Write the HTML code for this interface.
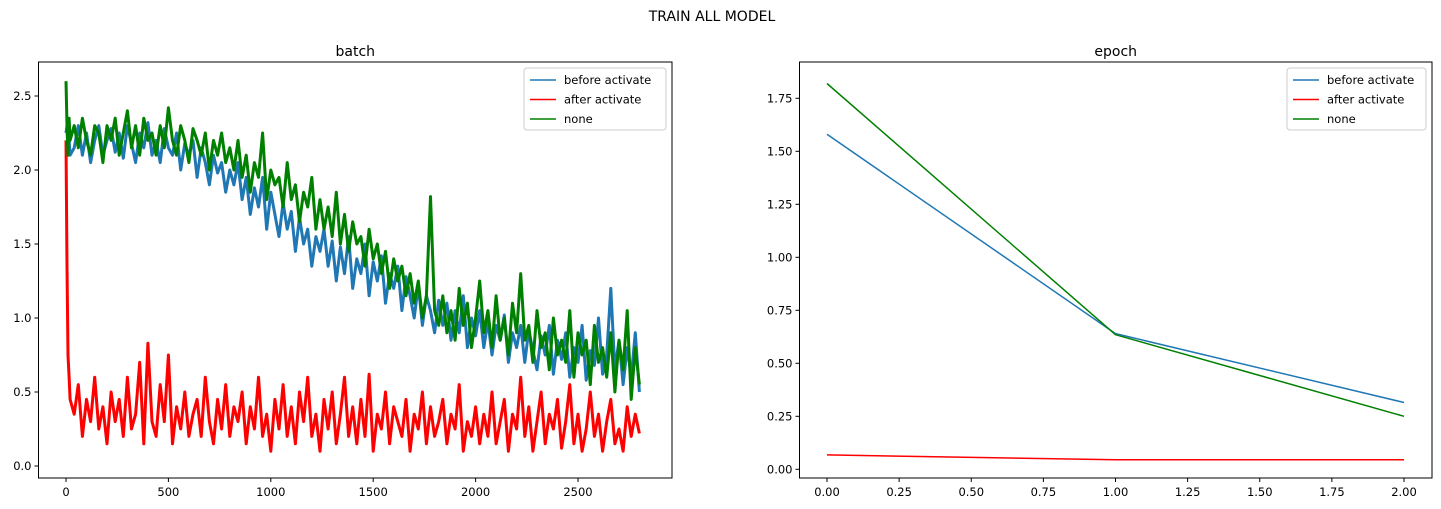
<!DOCTYPE html>
<html><head><meta charset="utf-8"><style>
body{margin:0;background:#fff;}
svg{display:block;font-family:"DejaVu Sans","Liberation Sans",sans-serif;}
</style></head><body>
<svg id="fig" width="1441" height="509"></svg>
<script>
const iterBatch=[0,5,10,15,20];for(let i=40;i<=2800;i+=20)iterBatch.push(i);
const blueBatch=[2.25,2.3,2.15,2.2,2.1,
2.15,2.3,2.1,2.25,2.05,2.2,2.3,2.1,2.2,2.28,
2.12,2.25,2.08,2.3,2.18,2.05,2.25,2.15,2.32,2.1,
2.2,2.05,2.28,2.15,2.1,2.25,2.0,2.18,2.1,2.2,
1.95,2.15,2.05,1.9,2.1,1.98,2.05,1.85,2.0,1.9,
2.05,1.8,1.95,1.7,1.88,1.75,1.95,1.6,1.85,1.7,
1.55,1.78,1.6,1.72,1.45,1.68,1.5,1.6,1.35,1.55,
1.45,1.6,1.35,1.52,1.25,1.48,1.3,1.55,1.2,1.4,
1.3,1.5,1.15,1.38,1.25,1.42,1.1,1.3,1.2,1.35,
1.05,1.28,1.15,1.0,1.22,0.95,1.15,1.05,0.9,1.12,
0.95,1.1,0.85,1.05,0.9,1.15,0.8,1.0,0.88,1.05,
0.8,0.98,0.75,0.95,0.85,1.02,0.7,0.9,0.8,0.95,
0.7,0.92,0.78,0.65,0.88,0.75,0.95,0.62,0.85,0.72,
0.9,0.6,0.8,0.7,0.95,0.58,0.78,0.68,1.0,0.62,
0.75,1.2,0.65,0.85,0.55,0.8,0.6,0.9,0.5];
const greenBatch=[2.6,2.3,2.1,2.35,2.2,
2.3,2.15,2.35,2.2,2.1,2.3,2.25,2.05,2.3,2.2,
2.35,2.1,2.25,2.4,2.15,2.3,2.1,2.35,2.2,2.25,
2.1,2.3,2.15,2.42,2.2,2.1,2.3,2.2,2.05,2.28,
2.2,2.1,2.25,2.0,2.2,2.1,2.25,2.05,2.15,2.0,
2.2,1.95,2.1,1.85,2.05,1.95,2.25,1.8,2.0,1.9,
1.95,1.75,2.05,1.8,1.9,1.65,1.85,1.75,1.95,1.6,
1.8,1.6,1.75,1.55,1.85,1.5,1.7,1.45,1.65,1.5,
1.55,1.35,1.6,1.4,1.5,1.3,1.45,1.2,1.4,1.25,
1.35,1.15,1.3,1.1,1.25,1.0,1.15,1.82,1.05,0.95,
1.15,0.9,1.05,0.85,1.2,0.95,1.1,0.8,1.0,1.25,
0.9,1.05,0.8,1.15,0.85,1.0,0.75,1.1,0.9,1.3,
0.85,0.95,0.7,1.05,0.8,0.9,0.65,1.0,0.75,0.85,
0.7,1.05,0.6,0.9,0.75,0.85,0.55,0.95,0.7,0.8,
0.6,0.9,0.5,0.85,0.65,1.05,0.45,0.8,0.55];
const redBatch=[2.2,1.35,0.75,0.6,0.45,
0.35,0.55,0.2,0.45,0.3,0.6,0.25,0.4,0.15,0.5,
0.3,0.45,0.2,0.6,0.25,0.35,0.7,0.15,0.83,0.3,
0.2,0.55,0.3,0.75,0.15,0.4,0.25,0.5,0.2,0.35,
0.45,0.2,0.6,0.3,0.15,0.45,0.25,0.55,0.2,0.4,
0.3,0.5,0.15,0.4,0.25,0.6,0.2,0.35,0.1,0.45,
0.25,0.55,0.2,0.4,0.15,0.5,0.3,0.6,0.2,0.35,
0.1,0.45,0.25,0.5,0.15,0.35,0.6,0.2,0.4,0.15,
0.45,0.2,0.62,0.1,0.35,0.25,0.5,0.15,0.4,0.3,
0.2,0.45,0.1,0.35,0.25,0.5,0.15,0.4,0.2,0.3,
0.45,0.15,0.35,0.25,0.55,0.1,0.3,0.2,0.4,0.15,
0.35,0.2,0.5,0.15,0.3,0.45,0.1,0.35,0.25,0.6,
0.2,0.4,0.1,0.3,0.5,0.15,0.35,0.25,0.45,0.12,
0.3,0.55,0.15,0.35,0.1,0.25,0.5,0.2,0.35,0.1,
0.3,0.45,0.15,0.25,0.1,0.4,0.2,0.35,0.22];
const epochX=[0,1,2];
const blueEpoch=[1.58,0.64,0.315];
const redEpoch=[0.068,0.045,0.045];
const greenEpoch=[1.82,0.635,0.25];
const leftXTicks=[0,500,1000,1500,2000,2500];
const leftYTicks=[0,0.5,1.0,1.5,2.0,2.5];
const rightXTicks=[0,0.25,0.5,0.75,1.0,1.25,1.5,1.75,2.0];
const rightYTicks=[0,0.25,0.5,0.75,1.0,1.25,1.5,1.75];
const labels=["before activate","after activate","none"];
const colors=["#1f77b4","#ff0000","#008000"];

const NS="http://www.w3.org/2000/svg";
const svg=document.getElementById('fig');
function el(t,a,p){const e=document.createElementNS(NS,t);for(const k in a)e.setAttribute(k,a[k]);(p||svg).appendChild(e);return e;}
function txt(s,a,p){const e=el('text',a,p);e.textContent=s;return e;}

const title=txt("TRAIN ALL MODEL",{x:712,y:21,'text-anchor':'middle','font-size':14,fill:'#000'});



function panel(name,box,xs,ys,xTicks,yTicks,xFmt,yFmt,series,ttl,legX,sw){
  const g=el('g',{});
  
  
  const [L,T,R,B]=box;
  const t=txt(ttl,{x:(L+R)/2,y:T-6,'text-anchor':'middle','font-size':14,fill:'#000'},g);
  
  
  series.forEach((s,i)=>{
    const d=s.x.map((v,j)=>(j?'L':'M')+xs(v).toFixed(1)+','+ys(s.y[j]).toFixed(1)).join('');
    const p=el('path',{d:d,fill:'none',stroke:colors[i],'stroke-width':sw,'stroke-linejoin':'round'},g);
    
    
  });
  const fr=el('rect',{x:L,y:T,width:R-L,height:B-T,fill:'none',stroke:'#000','stroke-width':1},g);
  
  
  xTicks.forEach(v=>{const x=xs(v);el('line',{x1:x,y1:B,x2:x,y2:B+4,stroke:'#000'},g);
    const l=txt(xFmt(v),{x:x,y:B+18,'text-anchor':'middle','font-size':11.5,fill:'#000'},g);
    
    });
  yTicks.forEach(v=>{const y=ys(v);el('line',{x1:L-4,y1:y,x2:L,y2:y,stroke:'#000'},g);
    const l=txt(yFmt(v),{x:L-7,y:y+4,'text-anchor':'end','font-size':11.5,fill:'#000'},g);
    
    });
  const lg=el('g',{},g);
  
  
  el('rect',{x:legX,y:T+6,width:R-6-legX,height:62,rx:3,fill:'#fff','fill-opacity':0.8,stroke:'#ccc'},lg);
  labels.forEach((lb,i)=>{const y=T+18+i*19.5;
    el('line',{x1:legX+6,y1:y,x2:legX+32,y2:y,stroke:colors[i],'stroke-width':1.5},lg);
    const e=txt(lb,{x:legX+40,y:y+4,'font-size':11.5,fill:'#000'},lg);
    
    });
}
const lx=v=>66+v*0.2048, ly=v=>466-v*148;
panel('batch',[38.5,62,672,478],lx,ly,leftXTicks,leftYTicks,v=>String(v),v=>v.toFixed(1),
  [{x:iterBatch,y:blueBatch},{x:iterBatch,y:redBatch},{x:iterBatch,y:greenBatch}],'batch',524,3);
const rx=v=>827+v*288.5, ry=v=>469.3-v*212;
panel('epoch',[799.5,62,1432,478],rx,ry,rightXTicks,rightYTicks,v=>v.toFixed(2),v=>v.toFixed(2),
  [{x:epochX,y:blueEpoch},{x:epochX,y:redEpoch},{x:epochX,y:greenEpoch}],'epoch',1287,1.5);
</script>
</body></html>
